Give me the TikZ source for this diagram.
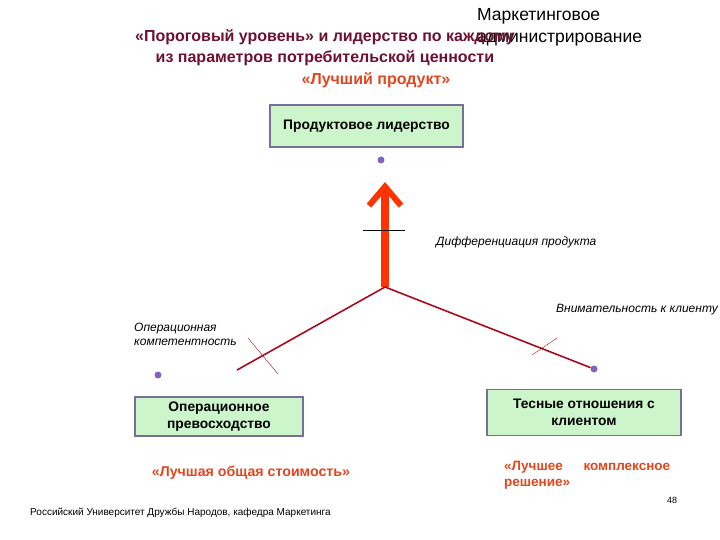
\documentclass[tikz,border=0pt]{standalone}
\usepackage{fontspec}
\setmainfont{Liberation Sans}
\usetikzlibrary{positioning,arrows.meta}

\definecolor{maroon}{RGB}{110,16,50}
\definecolor{orangered}{RGB}{226,70,30}
\definecolor{boxfill}{RGB}{204,245,204}
\definecolor{boxline}{RGB}{120,110,150}
\definecolor{arrowred}{RGB}{255,50,0}
\definecolor{linered}{RGB}{170,10,30}
\definecolor{dotpurple}{RGB}{130,100,190}

\begin{document}
\begin{tikzpicture}[x=1pt, y=-1pt,
  strategy/.style={draw=boxline, line width=1.6pt, fill=boxfill, font=\bfseries\fontsize{13.8}{17}\selectfont, align=center},
  motto/.style={text=orangered, font=\bfseries\fontsize{14.2}{16}\selectfont, inner sep=0pt},
  axislabel/.style={font=\itshape\fontsize{12}{14}\selectfont, inner sep=0pt, anchor=west, align=left},
  pin/.style={circle, fill=dotpurple, inner sep=0pt, minimum size=7pt},
  axis/.style={draw=linered, line width=1.6pt},
  tick/.style={draw=linered, line width=0.4pt}]
\useasboundingbox (0,0) rectangle (720,540);
% header
\node (subject) [anchor=north west, align=left, inner sep=0pt, font=\fontsize{17.5}{22}\selectfont] at (477,8) {Маркетинговое\\администрирование};
\node (threshold) [anchor=west, inner sep=0pt, text=maroon, align=center, font=\bfseries\fontsize{16}{21}\selectfont] at (135,48) {«Пороговый уровень» и лидерство по каждому\\из параметров потребительской ценности};
\node (bestproduct) [motto, font=\bfseries\fontsize{16}{18}\selectfont] at (376,80) {«Лучший продукт»};
% strategies
\node (leader) [strategy, minimum width=193pt, minimum height=42pt] at (366.5,126) {Продуктовое лидерство};
\node (excellence) [strategy, minimum width=168pt, minimum height=39pt] at (219,416.5) {Операционное\\превосходство};
\node (intimacy) [strategy, minimum width=194pt, minimum height=46pt] at (584,412.5) {Тесные отношения с\\клиентом};
\node (bestcost) [motto] at (251,473) {«Лучшая общая стоимость»};
\node (bestsolution) [motto, anchor=north west, align=justify, text width=166pt, font=\bfseries\fontsize{13.5}{16.5}\selectfont] at (504,461) {«Лучшее комплексное решение»};
% axes
\coordinate (origin) at (385,287);
\coordinate (axisleft) at (237,370);
\node (pintop) [pin] at (381,160) {};
\node (pinleft) [pin] at (158,375) {};
\node (pinright) [pin] at (594,369) {};
\draw [arrowred, line width=8pt, -{Straight Barb[length=19pt, width=32pt, line width=6pt]}] (origin) -- (385,182);
\draw (363,230) -- (405,230);
\draw [axis] (origin) -- (axisleft);
\draw [axis] (origin) -- (pinright);
\draw [tick] (248,338) -- (278,374);
\draw [tick] (532,355) -- (557,338);
\node (differentiation) [axislabel] at (436,242) {Дифференциация продукта};
\node (attention) [axislabel] at (556,310) {Внимательность к клиенту};
\node (competence) [axislabel] at (134,334) {Операционная\\компетентность};
% footer
\node (page) [font=\fontsize{9}{11}\selectfont] at (672,500) {48};
\node (university) [anchor=west, inner sep=0pt, font=\fontsize{10}{12}\selectfont] at (30,513) {Российский Университет Дружбы Народов, кафедра Маркетинга};
\end{tikzpicture}
\end{document}
